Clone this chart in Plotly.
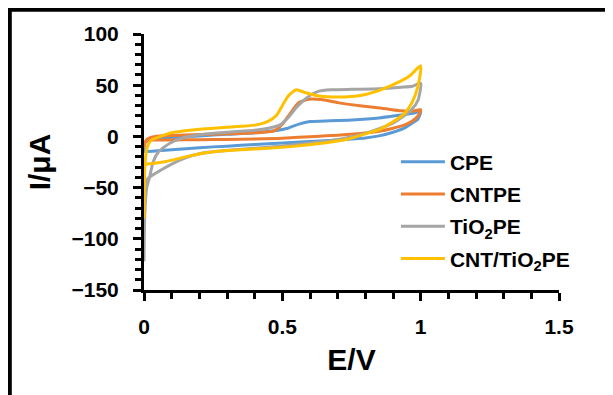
import plotly.graph_objects as go

# ---- data ----
cpe_E = [0.0, 0.003, 0.02, 0.05, 0.1, 0.2, 0.3, 0.4, 0.47, 0.52, 0.56, 0.6, 0.65, 0.75, 0.85, 0.93, 0.97, 1.0,
         0.99, 0.97, 0.94, 0.9, 0.85, 0.8, 0.7, 0.6, 0.5, 0.4, 0.3, 0.2, 0.1, 0.05, 0.01, 0.0]
cpe_I = [-14, -6, -3.5, -2.5, -1.5, 0.5, 2, 3.5, 5.5, 8, 12, 14.5, 15, 16, 18, 21, 22.5, 24,
         17, 13, 8, 4, 0.5, -1.5, -3.5, -5, -6.5, -8, -9.5, -11, -13, -14, -14.8, -15]

cntpe_E = [0.0, 0.005, 0.015, 0.04, 0.1, 0.2, 0.3, 0.4, 0.47, 0.5, 0.53, 0.56, 0.6, 0.64, 0.7, 0.78, 0.86, 0.93, 0.97, 1.0,
           0.99, 0.97, 0.94, 0.9, 0.85, 0.8, 0.7, 0.62, 0.5, 0.4, 0.3, 0.2, 0.1, 0.04, 0.01, 0.0]
cntpe_I = [-11, -5, -2, 0, 1, 1.8, 2.5, 3.5, 5.5, 12, 23, 33, 36.5, 36, 33, 30, 27.5, 25, 24.5, 26,
           20, 15, 11, 8, 5, 3.3, 1.2, 0, -1.8, -2.5, -3, -3.2, -3.4, -3.6, -4, -9]

tio2_E = [0.0, 0.003, 0.01, 0.02, 0.033, 0.05, 0.08, 0.11, 0.14, 0.2, 0.3, 0.4, 0.45, 0.49, 0.52, 0.55, 0.59, 0.63, 0.68, 0.75, 0.85, 0.93, 0.97, 1.0,
          0.99, 0.97, 0.94, 0.9, 0.85, 0.8, 0.73, 0.65, 0.55, 0.45, 0.35, 0.25, 0.2, 0.15, 0.1, 0.06, 0.03, 0.015, 0.005, 0.0]
tio2_I = [-122, -75, -50, -40, -25, -16, -9, -4.5, -1.5, 1.5, 4, 6, 8, 11, 18, 28, 38, 44, 45.5, 46, 46.5, 48, 49, 52,
          35, 27, 20, 13, 7.5, 3, -1.5, -5, -8, -10.5, -12.5, -15, -17, -21, -27, -33, -38, -41, -45, -55]

cnttio2_E = [0.0, 0.003, 0.01, 0.025, 0.06, 0.1, 0.15, 0.2, 0.3, 0.4, 0.45, 0.48, 0.5, 0.52, 0.55, 0.58, 0.62, 0.68, 0.75, 0.8, 0.86, 0.92, 0.96, 1.0,
             0.995, 0.98, 0.96, 0.94, 0.91, 0.88, 0.85, 0.8, 0.73, 0.65, 0.55, 0.45, 0.35, 0.25, 0.15, 0.08, 0.03, 0.01, 0.003, 0.0]
cnttio2_I = [-80, -30, -12, -4, 0, 3.5, 5.5, 7, 9, 11, 15, 21, 30, 39, 45.5, 43, 40, 38.5, 39, 41, 46, 53, 59, 69,
             55, 40, 29, 22, 16, 11, 6.5, 2.5, -3, -6.5, -9.5, -11.5, -13, -15, -20, -24.5, -26.5, -27, -27.5, -30]

series_names = ["CPE", "CNTPE", "TiO<sub>2</sub>PE", "CNT/TiO<sub>2</sub>PE"]
series_E = [cpe_E, cntpe_E, tio2_E, cnttio2_E]
series_I = [cpe_I, cntpe_I, tio2_I, cnttio2_I]
colors = ["#5B9BD5", "#ED7D31", "#A5A5A5", "#FFC000"]

x_ticks = [0, 0.5, 1, 1.5]
x_ticklabels = ["0", "0.5", "1", "1.5"]
y_ticks = [-150, -100, -50, 0, 50, 100]

FONT = "Liberation Sans, Arial, sans-serif"

fig = go.Figure()
for i, (name, E, I, c) in enumerate(zip(series_names, series_E, series_I, colors)):
    fig.add_trace(go.Scatter(
        x=E, y=I, mode="lines", name=name, legendgroup=str(i),
        line=dict(color=c, width=3, shape="spline", smoothing=0.6),
    ))

axis_common = dict(
    showline=True, linecolor="black", linewidth=3,
    ticks="outside", tickcolor="black", tickwidth=2.5, ticklen=8,
    showgrid=False, zeroline=False,
    tickfont=dict(family=FONT, size=21, color="black", weight="bold"),
)

fig.update_xaxes(
    range=[0, 1.5], tickvals=x_ticks, ticktext=x_ticklabels,
    minor=dict(dtick=0.1, ticks="outside", ticklen=6, tickwidth=2.5, tickcolor="black"),
    title=dict(text="E/V", font=dict(family=FONT, size=30, color="black", weight="bold"), standoff=12),
    ticklabelstandoff=8,
    **axis_common,
)
fig.update_yaxes(
    range=[-150, 100], tickvals=y_ticks,
    minor=dict(dtick=10, ticks="outside", ticklen=6, tickwidth=2.5, tickcolor="black"),
    title=dict(text="I/μA", font=dict(family=FONT, size=30, color="black", weight="bold"), standoff=12),
    ticklabelstandoff=10,
    **axis_common,
)

# the page body has an 8px margin, so the figure is sized/offset to compensate
fig.update_layout(
    width=605, height=387,
    margin=dict(l=136, r=54, t=26, b=105, autoexpand=False),
    paper_bgcolor="white", plot_bgcolor="white",
    showlegend=True,
    legend=dict(
        x=0.607, y=0.58, xanchor="left", yanchor="top",
        bgcolor="rgba(0,0,0,0)", borderwidth=0,
        font=dict(family=FONT, size=21, color="black", weight="bold"),
        itemwidth=44, tracegroupgap=2, traceorder="grouped",
    ),
    shapes=[dict(type="rect", xref="paper", yref="paper",
                 x0=-0.324, x1=2.0, y0=-1.0, y1=1.0957,
                 line=dict(color="black", width=4.5), fillcolor="rgba(0,0,0,0)", layer="above")],
)

fig.write_html("out.html")
